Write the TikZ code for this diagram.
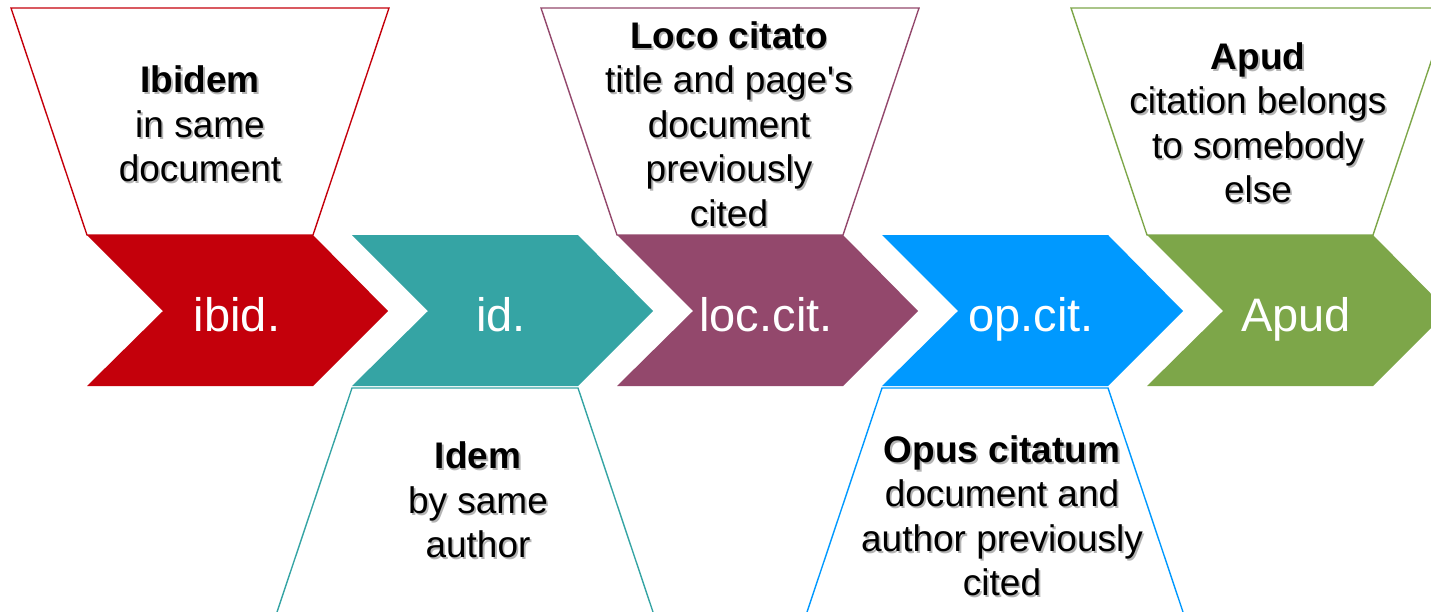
\documentclass[tikz,border=0pt]{standalone}
\usepackage{fontspec}
\setmainfont{Liberation Sans}
\definecolor{cRed}{RGB}{196,0,11}
\definecolor{cTeal}{RGB}{53,164,164}
\definecolor{cPurple}{RGB}{147,72,108}
\definecolor{cBlue}{RGB}{0,153,255}
\definecolor{cGreen}{RGB}{125,166,73}
\definecolor{cShadow}{RGB}{180,180,180}
\tikzset{
  chevlabel/.style={text=white, font=\fontsize{47}{56}\selectfont, inner sep=0pt, anchor=base},
  boxtext/.style={align=center, font=\fontsize{37}{44.5}\selectfont, inner sep=0pt, text=black},
  boxshadow/.style={boxtext, text=cShadow},
  trapline/.style={line width=1.4pt},
}
\newcommand\chevshape[2]{%
  \fill[#2] (#1,235) -- ++(226,0) -- ++(75,76) -- ++(-75,75) -- ++(-226,0) -- ++(76,-75) -- cycle;}
\newcommand\toptrap[2]{%
  \draw[trapline,#2] (#1-76,8) -- (#1+302,8) -- (#1+226,235) -- (#1,235) -- cycle;}
\newcommand\bottrap[2]{%
  \draw[trapline,#2] (#1,388) -- (#1+226,388) -- (#1+302,615) -- (#1-76,615) -- cycle;}
\newcommand\shadowtext[4]{%
  \node[boxshadow] at (#2+1.8,#3+1.8) {#4};
  \node[boxtext] (#1) at (#2,#3) {#4};}
\begin{document}
\begin{tikzpicture}[x=1pt,y=-1pt]
\useasboundingbox (0,0) rectangle (1431,611);
\clip (0,0) rectangle (1431,611);
% chevrons
\chevshape{87}{cRed}
\chevshape{352}{cTeal}
\chevshape{617}{cPurple}
\chevshape{882}{cBlue}
\chevshape{1147}{cGreen}
% trapezoids
\toptrap{87}{cRed}
\bottrap{352}{cTeal}
\toptrap{617}{cPurple}
\bottrap{882}{cBlue}
\toptrap{1147}{cGreen}
% chevron labels
\node[chevlabel] (ibid) at (237,331) {ibid.};
\node[chevlabel] (id) at (501,331) {id.};
\node[chevlabel] (loccit) at (766,331) {loc.cit.};
\node[chevlabel] (opcit) at (1031,331) {op.cit.};
\node[chevlabel] (apud) at (1296,331) {Apud};
% descriptions
\shadowtext{tIbid}{200}{124}{\textbf{Ibidem}\\in same\\document}
\shadowtext{tIdem}{478}{500}{\textbf{Idem}\\by same\\author}
\shadowtext{tLoco}{729}{124}{\textbf{Loco citato}\\title and page\textquotesingle s\\document\\previously\\cited}
\shadowtext{tOpus}{1002}{516}{\textbf{Opus citatum}\\document and\\author previously\\cited}
\shadowtext{tApud}{1258}{123}{\textbf{Apud}\\citation belongs\\to somebody\\else}
\end{tikzpicture}
\end{document}
